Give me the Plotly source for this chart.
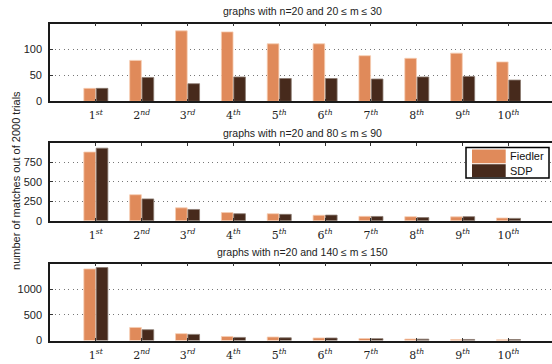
import plotly.graph_objects as go

# ---- data -------------------------------------------------------------
ranks = [1, 2, 3, 4, 5, 6, 7, 8, 9, 10]
rank_labels = ["1<sup><i>st</i></sup>", "2<sup><i>nd</i></sup>", "3<sup><i>rd</i></sup>",
               "4<sup><i>th</i></sup>", "5<sup><i>th</i></sup>", "6<sup><i>th</i></sup>",
               "7<sup><i>th</i></sup>", "8<sup><i>th</i></sup>", "9<sup><i>th</i></sup>",
               "10<sup><i>th</i></sup>"]

panel_titles = ["graphs with n=20 and 20 ≤ m ≤ 30",
                "graphs with n=20 and 80 ≤ m ≤ 90",
                "graphs with n=20 and 140 ≤ m ≤ 150"]

fiedler_m20_30 = [25, 79, 136, 134, 111, 111, 88, 83, 93, 76]
sdp_m20_30 = [25, 46, 34, 47, 44, 44, 43, 47, 48, 41]

fiedler_m80_90 = [886, 335, 166, 105, 90, 70, 56, 52, 50, 35]
sdp_m80_90 = [936, 281, 145, 90, 82, 72, 55, 40, 52, 30]

fiedler_m140_150 = [1396, 256, 135, 80, 70, 52, 40, 30, 20, 15]
sdp_m140_150 = [1423, 212, 121, 62, 55, 50, 38, 28, 22, 20]

y_ranges = [[0, 150], [0, 1000], [0, 1500]]
y_ticks = [[0, 50, 100], [0, 250, 500, 750], [0, 500, 1000]]

series_names = ["Fiedler", "SDP"]
fiedler_color = "#E08A5A"
sdp_color = "#472A1C"

# ---- geometry (pixels) -------------------------------------------------
W, H = 552, 364
L = 50
panel_px = [(24, 103), (145.6, 224.4), (268, 346.3)]   # (top, bottom) of each axes box
title_px = [11.5, 135.5, 256.5]


def px_x(x):
    return (x - L) / (W - L)


def px_y(y):
    return (H - y) / H


fig = go.Figure()
panels = [(fiedler_m20_30, sdp_m20_30), (fiedler_m80_90, sdp_m80_90),
          (fiedler_m140_150, sdp_m140_150)]

for i, (fv, sv) in enumerate(panels):
    n = "" if i == 0 else str(i + 1)
    fig.add_trace(go.Bar(x=ranks, y=fv, name=series_names[0], xaxis="x" + n, yaxis="y" + n,
                         marker=dict(color=fiedler_color, line=dict(color="#F6CDB2", width=0.8)),
                         showlegend=False))
    fig.add_trace(go.Bar(x=ranks, y=sv, name=series_names[1], xaxis="x" + n, yaxis="y" + n,
                         marker=dict(color=sdp_color, line=dict(color="#8A7A70", width=0.8)),
                         showlegend=False))
    top, bot = panel_px[i]
    fig.layout["xaxis" + n] = dict(
        domain=[0, 1], anchor="y" + n, range=[0, (W - L) / 45.85],
        tickmode="array", tickvals=ranks, ticktext=rank_labels,
        ticks="inside", ticklen=3, tickcolor="#333", tickwidth=1,
        showline=True, linecolor="#1a1a1a", linewidth=1.6, mirror="ticks",
        showgrid=False, zeroline=False,
        tickfont=dict(family="DejaVu Serif", size=11, color="#222"),
        ticklabelstandoff=3,
    )
    fig.layout["yaxis" + n] = dict(
        domain=[px_y(bot), px_y(top)], anchor="x" + n, range=y_ranges[i],
        tickmode="array", tickvals=y_ticks[i],
        ticks="inside", ticklen=3, tickcolor="#333",
        showline=True, linecolor="#1a1a1a", linewidth=1.6,
        showgrid=True, gridcolor="#777", griddash="1px,3.5px", gridwidth=1,
        zeroline=False,
        tickfont=dict(family="Liberation Sans", size=11, color="#222"),
        ticklabelstandoff=4,
    )
    fig.add_annotation(text=panel_titles[i], xref="paper", yref="paper",
                       x=px_x(302), y=px_y(title_px[i]), xanchor="center", yanchor="middle",
                       showarrow=False, font=dict(family="Liberation Sans", size=10.5, color="#222"))

# shared y-axis label
fig.add_annotation(text="number of matches out of 2000 trials", xref="paper", yref="paper",
                   x=px_x(16), y=px_y(184), textangle=-90, showarrow=False,
                   xanchor="center", yanchor="middle",
                   font=dict(family="Liberation Sans", size=11, color="#222"))

# legend box with swatches
fig.add_shape(type="rect", xref="paper", yref="paper",
              x0=px_x(466), x1=px_x(549), y0=px_y(181), y1=px_y(150),
              line=dict(color="black", width=1.5), fillcolor="white", layer="above")
for name, color, (y0, y1) in [(series_names[0], fiedler_color, (152, 166)),
                              (series_names[1], sdp_color, (167, 180))]:
    fig.add_shape(type="rect", xref="paper", yref="paper",
                  x0=px_x(472), x1=px_x(505.7), y0=px_y(y1), y1=px_y(y0),
                  line=dict(width=0), fillcolor=color, layer="above")
    fig.add_annotation(text=name, xref="paper", yref="paper",
                       x=px_x(507.5), y=px_y((y0 + y1) / 2), xanchor="left", yanchor="middle",
                       showarrow=False, font=dict(family="Liberation Sans", size=11, color="#111"))

fig.update_layout(
    width=W, height=H, margin=dict(l=L, r=0, t=0, b=0),
    paper_bgcolor="white", plot_bgcolor="white",
    barmode="group", bargap=0.46, bargroupgap=0.06,
    showlegend=False,
)

fig.write_html("out.html")
